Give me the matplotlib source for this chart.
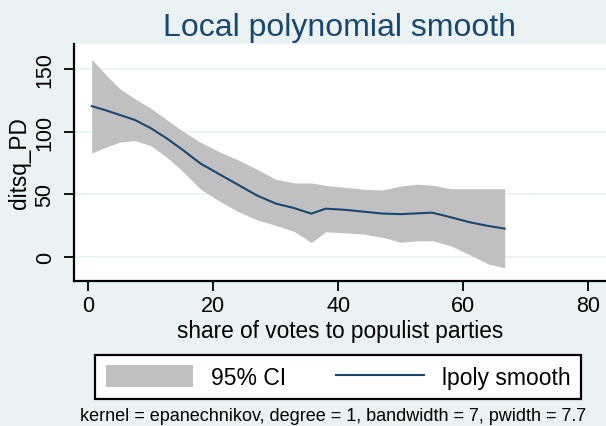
import numpy as np
import matplotlib
matplotlib.use("Agg")
import matplotlib.pyplot as plt
from matplotlib.patches import Patch
from matplotlib.lines import Line2D

plt.rcParams['font.family'] = ['Liberation Sans', 'DejaVu Sans']

# lpoly estimate of ditsq_PD on populist vote share, with 95% CI
share = [0.6, 3, 5.1, 7.5, 10, 12.5, 15, 18, 21, 24, 27, 30, 33, 35.7,
         38, 41, 44, 47, 50, 52.5, 55, 58, 61, 64, 66.6]
smooth = [120.6, 117, 113.5, 109.5, 103, 95, 86, 74.5, 66, 57.5, 49, 42.5,
          38.8, 34.4, 38.4, 37.5, 36, 34.5, 34, 34.6, 35.2, 31.5, 27.5, 24.5, 22.4]
ci_upper = [158, 145, 134.5, 126.5, 119, 110, 101, 91.5, 84, 77.5, 70, 62,
            59, 59, 57, 55.5, 54, 53.3, 56.5, 58, 57.2, 54.4, 54.4, 54.4, 54.4]
ci_lower = [83, 88, 91.8, 93, 89, 80, 69, 54, 44.5, 36, 29.5, 25, 20, 11.2,
            19.8, 19, 18, 15.5, 11.5, 12.5, 12.8, 8.6, 1.5, -6, -9]

xticks = [0, 20, 40, 60, 80]
yticks = [0, 50, 100, 150]
note = "kernel = epanechnikov, degree = 1, bandwidth = 7, pwidth = 7.7"

bg = '#eaf2f3'
navy = '#1a476f'
ci_gray = '#c0c0c0'

W, H = 606, 427
fig = plt.figure(figsize=(W / 100, H / 100), dpi=100, facecolor=bg)
ax = fig.add_axes([74 / W, 1 - 282 / H, (W - 74) / W, (282 - 45) / H])
ax.set_facecolor('white')

ax.fill_between(share, ci_lower, ci_upper, color=ci_gray, lw=0, zorder=2)
ax.plot(share, smooth, color=navy, lw=1.5, zorder=3)

ax.set_xlim(-2.24, 82.8)
ax.set_ylim(-19.6, 170.4)
ax.set_xticks(xticks)
ax.set_yticks(yticks)
ax.set_yticklabels([str(v) for v in yticks], rotation=90, va='center')
ax.tick_params(axis='both', length=7.2, width=1.3, labelsize=15.5, colors='black')
ax.tick_params(axis='x', pad=3)
ax.tick_params(axis='y', pad=6)
ax.grid(axis='y', color=bg, lw=1.3, zorder=1)
ax.set_axisbelow(True)
for s in ['top', 'right']:
    ax.spines[s].set_visible(False)
for s in ['left', 'bottom']:
    ax.spines[s].set_linewidth(1.6)

ax.set_xlabel('share of votes to populist parties', fontsize=16.3, labelpad=2)
ax.set_ylabel('ditsq_PD', fontsize=16.3)
ax.yaxis.set_label_coords(-0.081, 0.5)

fig.text(339 / W, 1 - 36 / H, 'Local polynomial smooth', fontsize=23,
         color=navy, ha='center', va='baseline')

handles = [Patch(facecolor=ci_gray, edgecolor='none'),
           Line2D([], [], color=navy, lw=1.5)]
leg = fig.legend(handles, ['95% CI', 'lpoly smooth'], loc='center',
                 bbox_to_anchor=(338 / W, 1 - 378 / H), ncol=2, fontsize=16.5,
                 frameon=True, fancybox=False, framealpha=1, edgecolor='black',
                 handlelength=3.8, handleheight=1.05, handletextpad=0.8,
                 columnspacing=2.2, borderpad=0.45)
leg.get_frame().set_linewidth(1.6)

fig.text(333 / W, 1 - 421 / H, note, fontsize=13, ha='center', va='baseline')

fig.savefig('out.png', dpi=100, facecolor=bg)
